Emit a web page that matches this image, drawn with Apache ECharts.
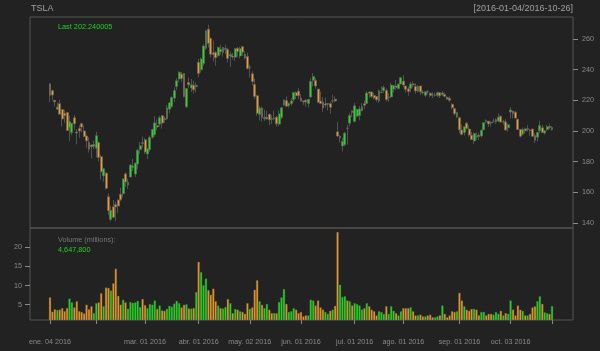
<!DOCTYPE html>
<html>
<head>
<meta charset="utf-8">
<script src="https://cdn.jsdelivr.net/npm/echarts@6/dist/echarts.min.js"></script>
<style>
  html, body { margin: 0; padding: 0; background: #222222; }
  #chart { width: 600px; height: 351px; }
</style>
</head>
<body>
<div id="chart"></div>
<script>
// TSLA daily OHLC, 2016-01-04 .. 2016-10-26 (one entry per trading day)
const opens = [
  230.72,226.36,220.00,214.19,217.86,214.01,211.60,212.01,202.21,198.97,
  208.67,199.40,201.62,204.80,200.06,196.68,192.56,190.79,189.96,188.76,
  192.42,183.22,170.70,172.51,157.11,142.32,150.50,152.00,155.00,158.70,
  159.00,172.00,164.70,170.00,176.16,172.00,178.50,188.00,192.40,194.25,
  185.00,188.00,196.00,197.68,203.50,204.52,210.00,207.93,208.00,214.27,
  216.00,221.47,229.10,234.00,237.09,237.52,215.82,231.61,228.10,229.89,
  229.00,244.82,240.00,244.00,253.97,266.45,260.50,251.00,251.22,249.10,
  253.25,251.31,253.12,253.12,248.96,248.99,248.14,254.00,249.00,255.00,
  249.92,248.60,241.50,237.36,230.29,223.00,210.87,215.00,207.96,207.91,
  211.00,208.00,208.15,209.05,204.51,208.82,216.99,219.87,216.60,217.91,
  220.50,224.99,226.00,221.48,219.59,220.00,218.00,222.24,233.10,233.00,
  227.39,219.50,218.88,216.95,217.42,217.84,219.50,220.68,199.47,195.51,
  190.29,191.00,201.89,205.13,212.97,206.14,209.73,210.10,213.10,217.80,
  217.91,225.50,225.50,223.10,222.52,219.64,225.00,226.47,226.47,221.99,
  222.27,227.34,229.34,227.76,230.70,232.50,229.35,227.48,227.76,230.72,
  229.10,226.01,229.42,225.42,223.26,225.86,224.69,223.62,223.24,223.50,
  225.00,223.78,223.90,221.82,221.20,217.45,214.61,209.10,208.70,200.62,
  199.02,204.99,201.26,197.26,193.50,196.45,197.20,196.70,200.80,206.50,
  206.35,205.60,206.42,205.80,206.49,209.65,205.80,205.86,202.13,212.38,
  213.10,212.24,207.75,201.00,198.02,201.35,200.95,200.50,201.33,197.05,
  195.99,200.09,202.12,198.70,201.00,202.90,201.00
];
const highs = [
  231.38,226.89,220.05,218.44,220.44,214.45,213.74,212.65,210.00,205.07,
  210.47,201.28,203.79,205.50,203.57,197.82,196.00,191.28,193.74,199.52,
  193.12,184.50,175.98,173.25,159.29,150.98,154.97,153.97,155.48,162.95,
  169.34,173.13,168.99,178.50,181.73,179.56,188.44,192.73,196.35,195.40,
  188.50,196.98,201.50,209.70,207.50,209.96,210.46,209.42,216.92,218.92,
  222.58,228.50,234.48,238.99,238.58,237.54,227.97,234.80,233.89,232.87,
  231.72,247.00,248.00,256.60,266.00,269.34,260.82,258.99,252.12,255.20,
  256.35,254.89,256.34,254.34,251.90,250.90,254.20,254.87,254.98,255.50,
  252.00,251.00,243.19,238.91,234.18,223.68,216.37,216.00,213.90,213.12,
  211.20,210.39,213.30,209.82,213.58,215.31,220.55,222.60,218.74,221.36,
  225.26,225.93,227.92,224.20,219.91,220.75,220.90,234.44,237.75,234.59,
  227.39,225.77,222.20,221.90,218.04,219.00,223.75,222.57,205.95,197.25,
  195.61,199.40,204.05,211.78,213.50,218.24,214.67,216.30,218.12,219.81,
  226.00,225.50,225.50,224.93,222.74,227.09,229.10,229.80,227.78,224.50,
  231.39,230.00,233.36,230.86,235.28,236.48,229.52,229.00,232.00,232.34,
  231.20,229.99,229.44,226.74,225.90,226.73,225.09,225.44,224.98,225.68,
  225.50,226.00,225.00,222.90,222.70,218.09,215.12,212.57,208.99,204.28,
  203.00,206.00,203.69,199.40,199.14,199.00,198.73,201.32,205.50,207.66,
  206.60,206.65,208.15,208.23,211.38,209.98,207.33,207.79,204.98,215.67,
  213.35,213.15,207.75,201.33,202.20,202.20,203.88,201.43,201.33,198.39,
  199.47,206.66,203.94,200.71,203.93,204.69,203.19
];
const lows = [
  219.00,220.00,215.98,213.67,210.77,203.00,205.31,200.00,193.38,197.25,
  200.78,191.25,195.71,199.03,195.88,188.88,186.00,182.11,188.08,182.75,
  180.21,168.21,166.99,161.73,145.00,141.10,143.16,141.05,146.50,154.11,
  156.68,163.50,162.21,169.60,173.81,170.00,175.25,185.00,189.22,185.00,
  181.76,186.50,195.00,196.25,200.50,202.87,201.51,205.36,207.03,211.70,
  215.11,219.01,226.76,232.01,231.80,222.00,215.00,228.13,225.50,224.54,
  225.16,235.00,238.10,242.57,253.00,254.51,248.02,245.30,242.64,248.11,
  249.75,248.53,250.23,244.66,241.80,246.91,245.76,248.46,247.37,249.00,
  246.68,240.00,234.82,229.88,220.66,210.00,206.85,206.21,206.64,207.55,
  203.72,204.55,207.00,202.76,203.23,207.75,216.35,215.86,215.18,216.51,
  219.05,220.75,220.75,219.21,217.11,215.94,215.45,221.52,229.20,227.50,
  218.35,217.66,212.52,215.13,213.50,211.18,218.23,218.81,195.75,192.44,
  186.69,190.10,191.16,203.00,209.02,206.00,208.84,207.00,213.01,214.50,
  217.50,221.56,221.50,220.50,219.00,218.30,224.75,225.00,219.26,218.88,
  221.37,225.30,226.92,227.10,230.24,228.43,225.00,223.02,225.33,228.50,
  224.21,225.19,223.50,223.65,222.16,223.91,222.00,221.49,222.44,222.12,
  221.50,222.85,221.78,220.30,218.72,214.05,210.20,208.53,198.51,197.30,
  197.02,201.00,196.22,193.98,191.52,194.21,194.10,195.80,200.50,205.00,
  202.65,202.80,205.50,204.72,206.00,205.72,204.03,200.00,199.55,208.25,
  208.28,208.12,200.63,195.80,197.10,198.31,199.75,197.00,196.31,192.21,
  193.26,198.40,199.00,197.66,200.00,201.20,200.10
];
const closes = [
  223.41,223.43,219.04,215.65,211.00,207.85,209.97,200.31,206.18,204.99,
  204.72,198.70,199.97,202.55,196.38,193.56,188.07,189.70,191.20,196.94,
  182.78,173.48,175.33,162.60,147.99,148.25,143.67,150.47,151.04,155.17,
  168.68,166.77,166.58,177.74,177.21,179.00,187.43,190.34,191.93,186.35,
  188.34,195.74,201.04,205.29,202.60,208.72,205.18,207.50,215.15,218.34,
  221.93,226.38,232.74,238.32,234.24,222.58,227.75,230.26,230.13,226.89,
  229.77,237.59,246.99,255.47,265.42,257.20,250.07,249.92,247.82,254.53,
  251.86,254.51,253.88,247.37,249.97,248.29,253.75,251.82,253.74,251.47,
  247.71,240.76,241.80,232.32,222.56,211.53,214.93,208.92,208.69,208.96,
  207.28,207.61,208.29,204.66,211.17,215.21,220.28,216.22,217.91,219.58,
  225.12,223.04,223.23,219.56,218.96,218.99,220.68,232.34,235.52,229.36,
  218.79,217.87,214.96,217.70,217.93,215.47,219.70,219.61,196.66,196.40,
  193.15,198.55,201.79,210.19,212.28,216.50,213.98,214.44,215.94,216.78,
  224.78,224.65,222.53,221.53,220.40,226.25,225.26,228.36,220.50,222.27,
  230.01,229.51,228.49,230.61,234.79,230.01,227.20,225.79,230.61,230.03,
  226.16,229.08,225.65,224.91,225.61,225.59,223.24,223.51,223.24,225.00,
  222.93,224.84,222.62,220.96,219.99,215.20,211.34,212.01,200.77,197.78,
  202.83,201.71,197.36,194.47,198.30,196.05,196.41,200.42,205.40,206.34,
  204.64,205.22,206.43,207.45,208.99,205.81,206.27,200.70,204.03,213.70,
  211.41,208.46,201.00,196.61,200.95,200.10,201.51,200.24,196.51,193.96,
  199.10,203.56,199.10,200.09,202.76,202.34,202.24
];
// volume in millions
const volumes = [
  6.9,3.2,3.8,3.6,3.7,4.1,3.3,4.1,6.6,5.6,
  4.3,5.9,3.3,3.1,2.7,5.0,3.8,4.6,2.8,5.4,
  5.6,8.0,4.6,9.5,9.4,8.7,10.6,14.4,7.3,5.0,
  6.3,5.6,3.9,5.7,5.5,5.6,6.0,4.4,6.5,4.9,
  4.1,5.2,5.0,6.1,3.9,4.8,3.5,3.4,3.9,4.7,
  4.5,5.3,6.0,5.4,4.3,5.0,5.1,4.0,4.0,4.1,
  8.3,16.2,13.5,10.1,11.8,8.8,7.6,9.2,5.9,4.8,
  4.1,4.0,4.4,6.5,5.4,2.8,3.9,3.7,3.3,3.1,
  2.6,5.4,3.9,4.3,8.9,11.4,5.9,5.0,4.1,5.2,
  3.7,2.8,2.8,2.8,5.7,6.9,9.1,5.2,3.1,3.3,
  4.1,3.7,2.8,3.1,1.95,2.2,2.2,6.3,6.1,4.8,
  6.1,4.3,3.7,3.1,2.6,3.4,3.7,4.7,24.0,10.2,
  7.0,7.2,6.1,5.9,4.8,5.4,5.2,4.8,3.7,4.1,
  5.4,4.6,3.7,3.3,2.2,3.3,3.1,2.6,4.6,2.6,
  4.6,3.4,2.8,2.2,3.3,4.1,4.1,4.1,4.3,3.3,
  2.2,2.2,2.4,1.95,1.95,2.2,2.4,1.7,1.7,1.95,
  2.2,4.8,2.6,1.7,2.2,3.3,3.1,3.3,8.1,6.1,
  4.6,3.7,3.4,3.9,3.9,3.7,2.2,3.1,3.1,2.2,
  2.6,2.6,2.4,3.1,2.6,3.4,2.2,2.8,2.6,6.1,
  3.7,2.2,4.8,3.7,3.4,2.2,2.2,2.6,4.3,4.6,
  5.9,7.2,5.2,3.0,2.8,2.6,4.6478
];

// x ticks: trading-day index and label ('' = tick only)
const tickIndex = [0, 19, 39, 61, 82, 103, 125, 145, 168, 189, 206];
const tickLabels = ['ene. 04 2016', '', 'mar. 01 2016', 'abr. 01 2016', 'may. 02 2016',
  'jun. 01 2016', 'jul. 01 2016', 'ago. 01 2016', 'sep. 01 2016', 'oct. 03 2016', ''];
const priceTicks = [140, 160, 180, 200, 220, 240, 260];
const volumeTicks = [5, 10, 15, 20];

const UP = '#14e614';
const DOWN = '#f59a1c';
const WICK = '#666666';
const FG = '#8a8a8a';
const FONT = '"Liberation Sans", Arial, sans-serif';

const X_MIN = -8.21, X_MAX = 214.6;

const candleData = closes.map((c, i) => [i, opens[i], c, lows[i], highs[i]]);
const volumeData = volumes.map((v, i) => ({
  value: [i, v],
  itemStyle: { color: closes[i] >= opens[i] ? UP : DOWN }
}));
const labelIndex = tickIndex.filter((t, k) => tickLabels[k] !== '');
const labelFor = {};
tickIndex.forEach((t, k) => { labelFor[t] = tickLabels[k]; });

const chart = echarts.init(document.getElementById('chart'), null, { renderer: 'canvas' });

chart.setOption({
  backgroundColor: '#222222',
  animation: false,
  grid: [
    { left: 30, right: 27, top: 17, height: 211, show: true, backgroundColor: 'transparent',
      borderColor: '#555555', borderWidth: 1 },
    { left: 30, right: 27, top: 228, height: 92, show: true, backgroundColor: 'transparent',
      borderColor: '#555555', borderWidth: 1 }
  ],
  xAxis: [
    {
      type: 'value', gridIndex: 0, min: X_MIN, max: X_MAX,
      axisLine: { show: false, onZero: false }, axisTick: { show: false },
      axisLabel: { show: false }, splitLine: { show: false }
    },
    {
      type: 'value', gridIndex: 1, min: X_MIN, max: X_MAX, position: 'bottom',
      axisLine: { show: false, onZero: false },
      axisTick: { show: true, customValues: tickIndex, length: 4, lineStyle: { color: FG } },
      axisLabel: {
        show: true, customValues: labelIndex, margin: 19,
        color: FG, fontSize: 7.2, fontFamily: FONT,
        formatter: v => labelFor[Math.round(v)] || ''
      },
      splitLine: { show: false }
    }
  ],
  yAxis: [
    {
      type: 'value', gridIndex: 0, position: 'right', min: 136.7, max: 274.4,
      axisLine: { show: false, onZero: false },
      axisTick: { show: true, customValues: priceTicks, length: 5, lineStyle: { color: FG } },
      axisLabel: { show: true, customValues: priceTicks, margin: 9, color: FG, fontSize: 7.2, fontFamily: FONT },
      splitLine: { show: false }
    },
    {
      type: 'value', gridIndex: 1, position: 'left', min: 1.0, max: 25.04,
      axisLine: { show: false, onZero: false },
      axisTick: { show: true, customValues: volumeTicks, length: 5, lineStyle: { color: FG } },
      axisLabel: { show: true, customValues: volumeTicks, margin: 8, color: FG, fontSize: 7.2, fontFamily: FONT },
      splitLine: { show: false }
    }
  ],
  series: [
    {
      name: 'TSLA',
      type: 'candlestick',
      xAxisIndex: 0, yAxisIndex: 0,
      data: candleData,
      encode: { x: 0, y: [1, 2, 3, 4] },
      barWidth: 2.4,
      itemStyle: {
        color: UP, color0: DOWN,
        borderColor: WICK, borderColor0: WICK,
        borderWidth: 0.7
      }
    },
    {
      name: 'Volume',
      type: 'bar',
      xAxisIndex: 1, yAxisIndex: 1,
      data: volumeData,
      barWidth: 2.2,
      itemStyle: { borderColor: '#555555', borderWidth: 0.4 }
    }
  ],
  graphic: [
    { type: 'text', x: 31, y: 9, style: { text: 'TSLA', fill: '#a0a0a0', fontSize: 9, fontFamily: FONT, verticalAlign: 'middle' } },
    { type: 'text', x: 573, y: 9, style: { text: '[2016-01-04/2016-10-26]', fill: '#a0a0a0', fontSize: 9, fontFamily: FONT, align: 'right', verticalAlign: 'middle' } },
    { type: 'text', x: 58, y: 27, style: { text: 'Last 202.240005', fill: '#22d022', fontSize: 7.3, fontFamily: FONT, verticalAlign: 'middle' } },
    { type: 'text', x: 58, y: 240, style: { text: 'Volume (millions):', fill: '#777777', fontSize: 7.3, fontFamily: FONT, verticalAlign: 'middle' } },
    { type: 'text', x: 58, y: 250, style: { text: '4,647,800', fill: '#22d022', fontSize: 7.3, fontFamily: FONT, verticalAlign: 'middle' } }
  ]
});
</script>
</body>
</html>
